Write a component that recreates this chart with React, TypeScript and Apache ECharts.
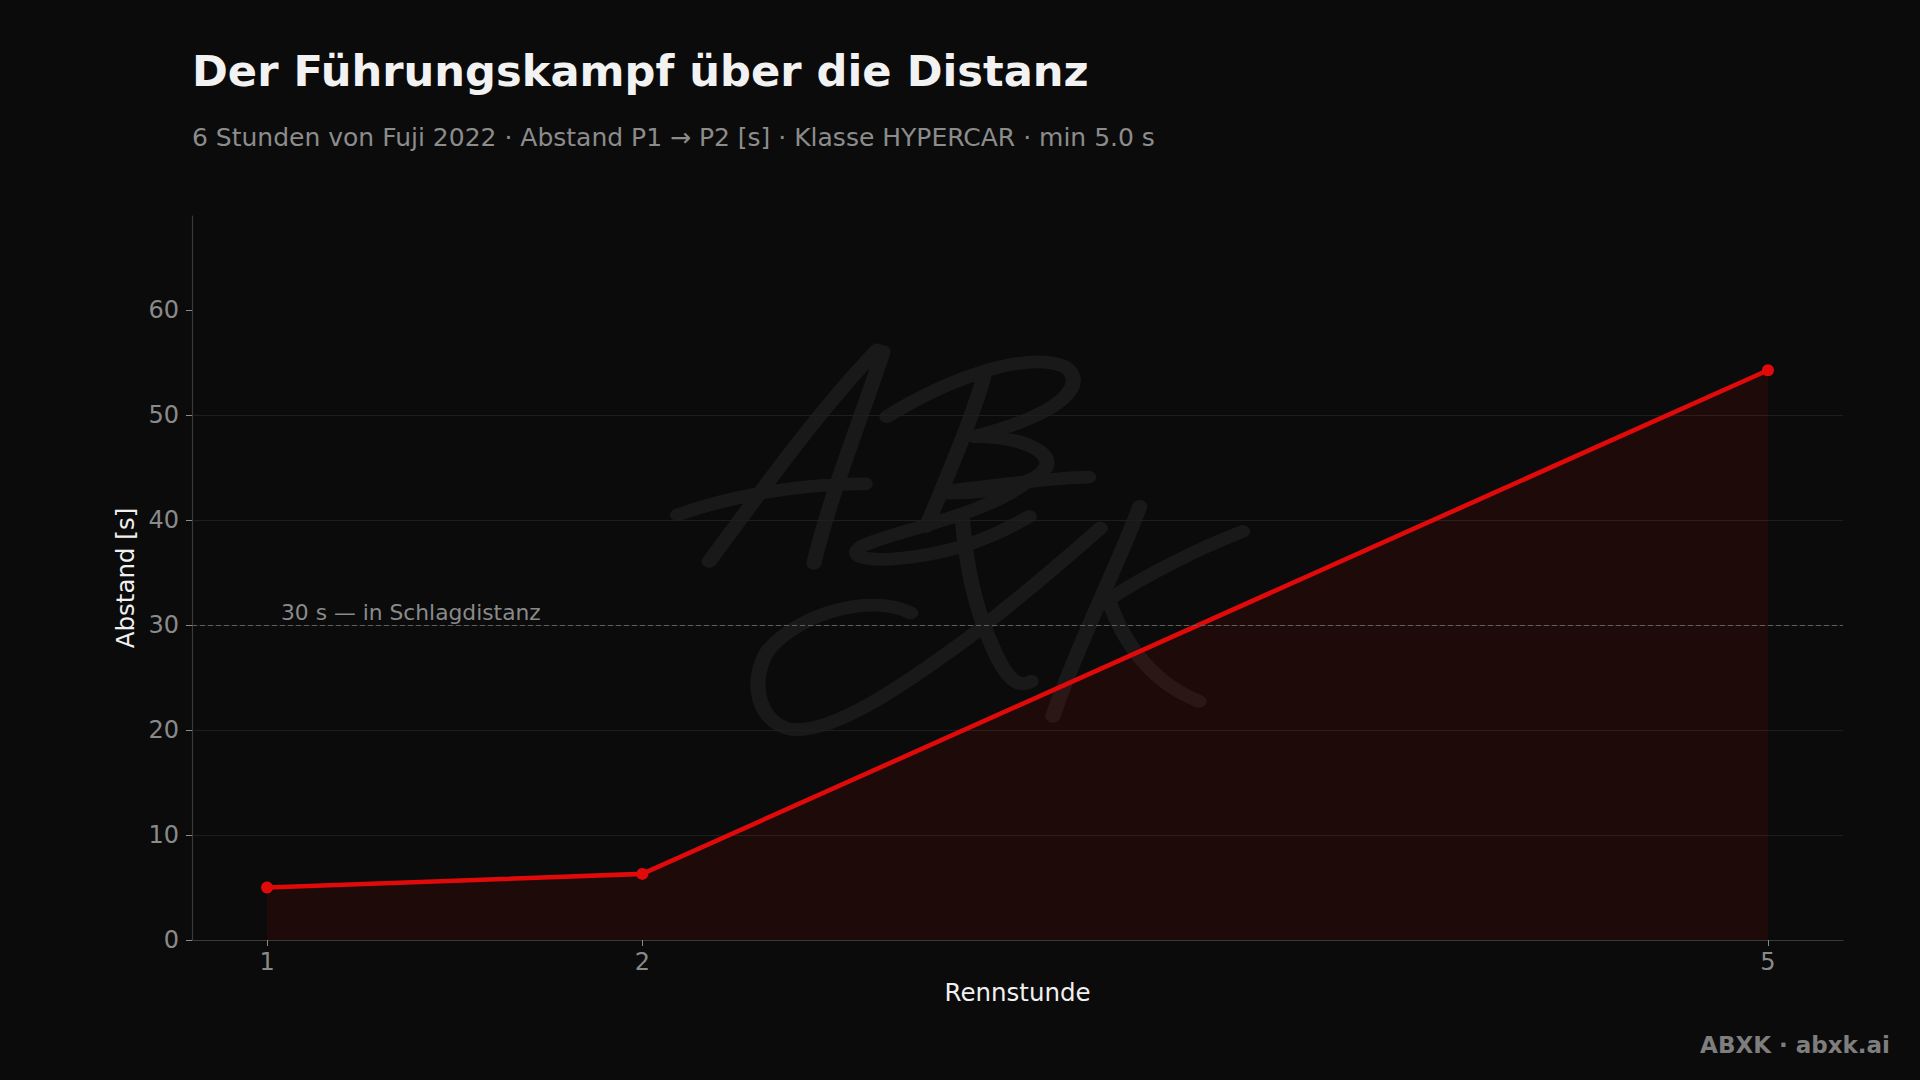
import { useEffect, useRef } from 'react'
import * as echarts from 'echarts'

// Rennstunde (x) und Abstand P1 -> P2 in Sekunden (y)
const hours = [1, 2, 5]
const gaps = [5.0, 6.3, 54.3]
const yTicks = [0, 10, 20, 30, 40, 50, 60]
const thresholdValue = 30
const thresholdLabel = '30 s — in Schlagdistanz'

const titleText = 'Der Führungskampf über die Distanz'
const subtitleText = '6 Stunden von Fuji 2022 · Abstand P1 → P2 [s] · Klasse HYPERCAR · min 5.0 s'
const footerText = 'ABXK · abxk.ai'

const FONT = 'DejaVu Sans'
const RED = '#e10a0a'

// handschriftliches ABXK-Wasserzeichen (grobe Nachzeichnung)
const signature = [
  'M150 695 C260 520 420 250 575 60',
  'M590 65 C540 250 460 480 415 700',
  'M70 555 C200 500 380 460 545 462',
  'M845 140 C820 250 760 420 700 590',
  'M600 260 C750 150 950 60 1050 110 C1110 160 1050 250 820 320',
  'M820 320 C960 320 1040 380 990 430 C940 480 820 490 740 490',
  'M740 485 C860 470 1000 445 1110 442',
  'M960 450 C850 560 620 600 535 650 C490 690 580 700 700 675 C820 650 900 600 960 560',
  'M660 850 C560 790 380 850 300 960 C250 1050 270 1180 360 1200 C470 1210 650 1060 800 930 C920 820 1040 700 1140 595',
  'M790 560 C800 700 820 830 870 960 C900 1040 930 1080 965 1055',
  'M1240 530 C1180 720 1080 950 1020 1160',
  'M1500 605 C1380 660 1250 740 1160 810',
  'M1160 810 C1200 940 1270 1060 1390 1115',
].join(' ')

echarts.graphic.registerShape('abxkSignature', echarts.graphic.extendPath(signature, {}))

export default function App() {
  const chartRef = useRef<HTMLDivElement>(null)

  useEffect(() => {
    document.body.style.margin = '0'
    document.body.style.background = '#0b0b0b'
    if (!chartRef.current) return
    const chart = echarts.init(chartRef.current, null, { renderer: 'svg' })

    const option: any = {
      animation: false,
      backgroundColor: '#0b0b0b',
      textStyle: { fontFamily: FONT },
      grid: { left: 192, right: 77, top: 216, bottom: 140 },
      graphic: [
        {
          type: 'abxkSignature',
          x: 650,
          y: 330,
          scaleX: 0.3953,
          scaleY: 0.3333,
          silent: true,
          z: -1,
          style: {
            fill: 'none',
            stroke: 'rgba(255,255,255,0.06)',
            lineWidth: 14,
            strokeNoScale: true,
            lineCap: 'round',
            lineJoin: 'round',
          },
        },
        {
          type: 'text',
          x: 192,
          y: 71,
          style: {
            text: titleText,
            fill: '#f2f2f2',
            fontSize: 43.2,
            fontWeight: 'bold',
            fontFamily: FONT,
            verticalAlign: 'middle',
          },
        },
        {
          type: 'text',
          x: 192,
          y: 137,
          style: {
            text: subtitleText,
            fill: '#8c8c8c',
            fontSize: 25,
            fontFamily: FONT,
            verticalAlign: 'middle',
          },
        },
        {
          type: 'text',
          x: 1890,
          y: 1045,
          style: {
            text: footerText,
            fill: '#7e7e7e',
            fontSize: 23,
            fontWeight: 'bold',
            fontFamily: FONT,
            align: 'right',
            verticalAlign: 'middle',
          },
        },
      ],
      xAxis: {
        type: 'value',
        min: 0.8,
        max: 5.2,
        name: 'Rennstunde',
        nameLocation: 'middle',
        nameGap: 40,
        nameTextStyle: { color: '#f0f0f0', fontSize: 24.5, fontFamily: FONT },
        axisLine: { show: true, lineStyle: { color: '#3a3a3a', width: 1.2 } },
        axisTick: { show: true, customValues: hours, length: 6, lineStyle: { color: '#8a8a8a' } },
        axisLabel: { customValues: hours, color: '#8a8a8a', fontSize: 24, margin: 10, fontFamily: FONT },
        splitLine: { show: false },
      },
      yAxis: {
        type: 'value',
        min: 0,
        max: 69,
        interval: 10,
        name: 'Abstand [s]',
        nameLocation: 'middle',
        nameGap: 52,
        nameTextStyle: { color: '#f0f0f0', fontSize: 24.5, fontFamily: FONT },
        axisLine: { show: true, lineStyle: { color: '#3a3a3a', width: 1.2 } },
        axisTick: { show: true, customValues: yTicks, length: 6, lineStyle: { color: '#8a8a8a' } },
        axisLabel: { customValues: yTicks, color: '#8a8a8a', fontSize: 24, margin: 13, fontFamily: FONT },
        splitLine: {
          show: true,
          showMaxLine: false,
          lineStyle: { color: '#1e1e1e', width: 1 },
        },
      },
      series: [
        {
          type: 'line',
          data: hours.map((h, i) => [h, gaps[i]]),
          symbol: 'circle',
          symbolSize: 12,
          lineStyle: { color: RED, width: 4.6 },
          itemStyle: { color: RED },
          areaStyle: { color: 'rgba(225,10,10,0.14)', origin: 'start' },
          z: 3,
          markLine: {
            silent: true,
            symbol: ['none', 'none'],
            data: [{ yAxis: thresholdValue }],
            lineStyle: { color: '#5e5e5e', type: [5, 3], width: 1.2 },
            label: {
              show: true,
              position: 'insideStartTop',
              formatter: thresholdLabel,
              color: '#8a8a8a',
              fontSize: 21.8,
              fontFamily: FONT,
              distance: 2,
              padding: [0, 0, 0, 87],
            },
          },
        },
      ],
    }

    chart.setOption(option)
    return () => chart.dispose()
  }, [])

  return <div ref={chartRef} style={{ width: 1920, height: 1080 }} />
}
